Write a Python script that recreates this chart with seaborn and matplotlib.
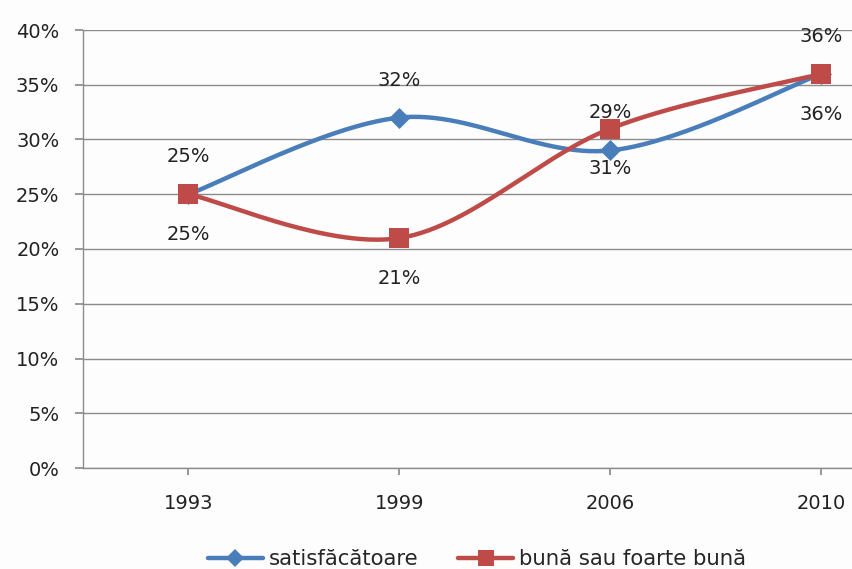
import numpy as np
import pandas as pd
import matplotlib
matplotlib.use("Agg")
import matplotlib.pyplot as plt
import seaborn as sns
from matplotlib.lines import Line2D

years = ["1993", "1999", "2006", "2010"]
satisfacatoare = [25, 32, 29, 36]
buna = [25, 21, 31, 36]
series_names = ["satisfăcătoare", "bună sau foarte bună"]
colors = ["#4A7EBB", "#BE4B48"]
markers = ["D", "s"]
yticks = [0, 5, 10, 15, 20, 25, 30, 35, 40]

sns.set_theme(style="white")
plt.rcParams['font.family'] = ['DejaVu Sans']

def smooth(xs, ys, n=60):
    P = np.column_stack([xs, ys]).astype(float)
    Pp = np.vstack([P[0], P, P[-1]])
    out = []
    for i in range(len(P) - 1):
        p0, p3 = P[i], P[i + 1]
        p1 = p0 + (Pp[i + 2] - Pp[i]) / 6.0
        p2 = p3 - (Pp[i + 3] - Pp[i + 1]) / 6.0
        t = np.linspace(0, 1, n)[:, None]
        seg = ((1 - t) ** 3) * p0 + 3 * ((1 - t) ** 2) * t * p1 + 3 * (1 - t) * t ** 2 * p2 + t ** 3 * p3
        out.append(seg if i == 0 else seg[1:])
    c = np.vstack(out)
    return c[:, 0], c[:, 1]

FS = 14
LFS = 15.3
fig = plt.figure(figsize=(8.53, 5.69), dpi=100)
fig.patch.set_facecolor("#fdfdfd")
ax = fig.add_axes([83 / 853, 101 / 569, 844 / 853, 438 / 569])
ax.set_facecolor("#fdfdfd")

x = np.arange(len(years))
rows = []
for name, vals in zip(series_names, [satisfacatoare, buna]):
    sx, sy = smooth(x, vals)
    for a, b in zip(sx, sy):
        rows.append({"x": a, "y": b, "series": name})
df_curve = pd.DataFrame(rows)
sns.lineplot(data=df_curve, x="x", y="y", hue="series", palette=colors, sort=False,
             estimator=None, linewidth=3.2, legend=False, ax=ax, zorder=3)

pts = pd.DataFrame({"x": np.concatenate([x, x]),
                    "y": satisfacatoare + buna,
                    "series": [series_names[0]] * 4 + [series_names[1]] * 4})
for name, col, mk, ms in zip(series_names, colors, markers, [115, 205]):
    sub = pts[pts.series == name]
    sns.scatterplot(data=sub, x="x", y="y", color=col, marker=mk, s=ms,
                    edgecolor=col, linewidth=0, ax=ax, zorder=4, legend=False)

for xi, v in zip(x, satisfacatoare):
    ax.annotate(f"{v}%", (xi, v), xytext=(0, 27), textcoords="offset points",
                ha="center", va="center", fontsize=FS, color="#222222", zorder=5)
for xi, v in zip(x, buna):
    ax.annotate(f"{v}%", (xi, v), xytext=(0, -29), textcoords="offset points",
                ha="center", va="center", fontsize=FS, color="#222222", zorder=5)

ax.set_xlim(-0.5, 3.5)
ax.set_ylim(0, 40)
ax.set_yticks(yticks)
ax.set_yticklabels([f"{t}%" for t in yticks], fontsize=FS, color="#222222")
ax.set_xticks(x)
ax.set_xticklabels(years, fontsize=FS, color="#222222")
ax.set_xlabel("")
ax.set_ylabel("")
ax.yaxis.grid(True, color="#8c8c8c", linewidth=1.0)
ax.set_axisbelow(True)
for s in ["top", "right"]:
    ax.spines[s].set_visible(False)
for s in ["left", "bottom"]:
    ax.spines[s].set_color("#8c8c8c")
    ax.spines[s].set_linewidth(1.0)
ax.tick_params(axis="y", which="both", left=True, length=6, color="#8c8c8c", pad=11)
ax.tick_params(axis="x", which="both", bottom=True, length=5, color="#8c8c8c", pad=14)

handles = [Line2D([0], [0], color=c, lw=3.2, marker=m, markersize=ms, markeredgewidth=0)
           for c, m, ms in zip(colors, markers, [9, 12])]
fig.legend(handles, series_names, loc="center", bbox_to_anchor=(477 / 853, 1 - 559 / 569),
           ncol=2, frameon=False, fontsize=LFS, handlelength=2.55, columnspacing=1.9,
           handletextpad=0.28)

fig.savefig("out.png", dpi=100, facecolor=fig.get_facecolor())
